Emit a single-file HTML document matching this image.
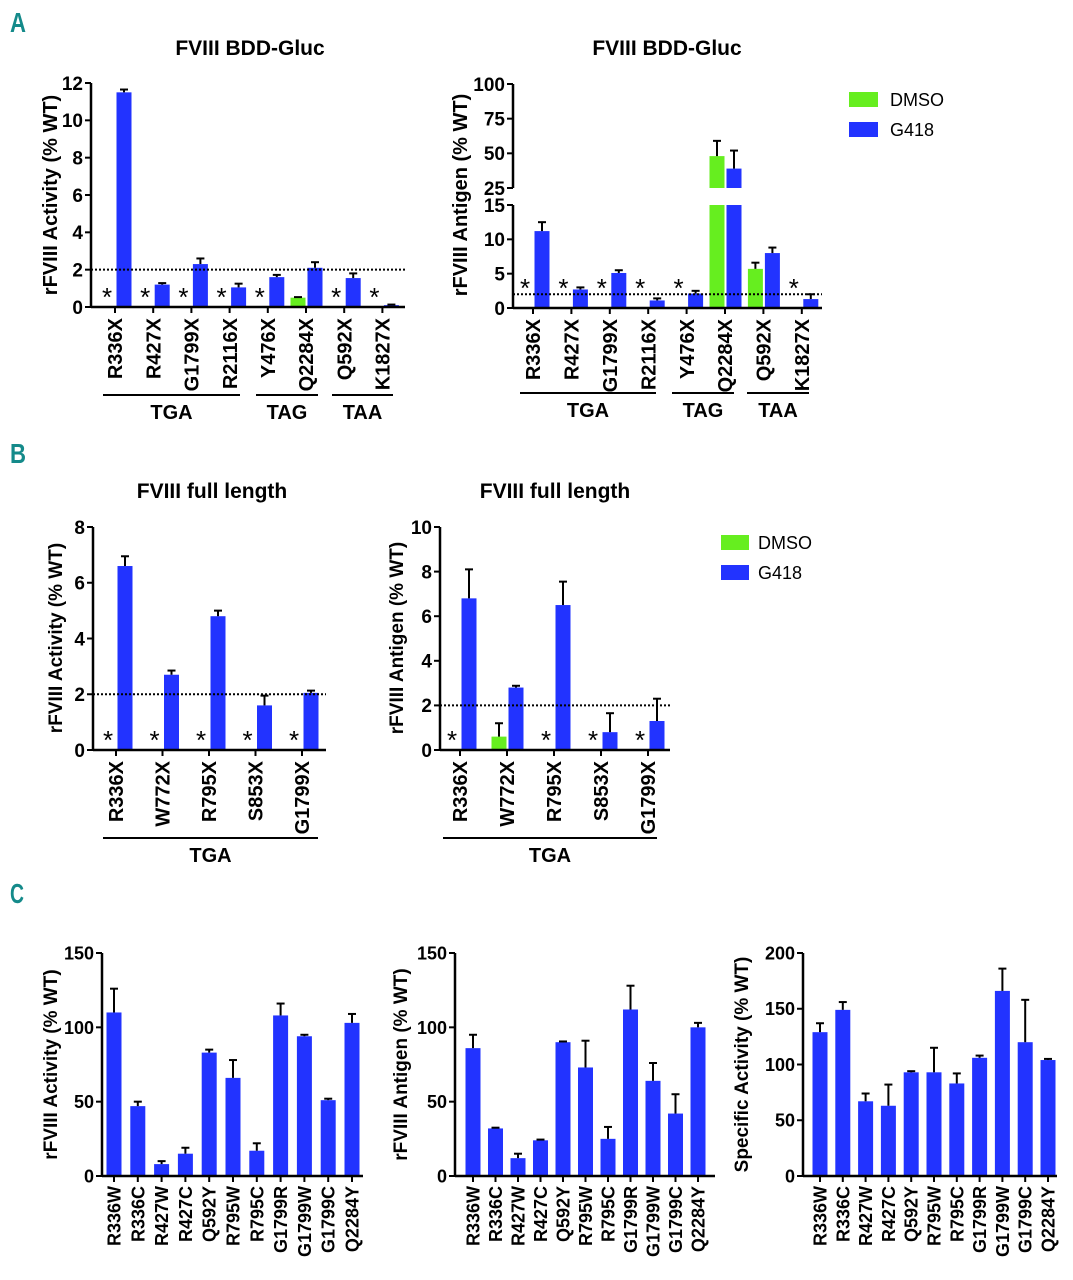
<!DOCTYPE html>
<html><head><meta charset="utf-8"><style>
html,body{margin:0;padding:0;background:#fff;}
svg{display:block;font-family:"Liberation Sans",Arial,sans-serif;}
.b{font-weight:bold;}
</style></head><body>
<svg id="fig" width="1073" height="1280" viewBox="0 0 1073 1280" xmlns="http://www.w3.org/2000/svg">
<text x="10" y="32" font-size="28" fill="#148a8a" class="b" textLength="16" lengthAdjust="spacingAndGlyphs">A</text>
<text x="10" y="463" font-size="28" fill="#148a8a" class="b" textLength="16" lengthAdjust="spacingAndGlyphs">B</text>
<text x="10" y="903" font-size="28" fill="#148a8a" class="b" textLength="14" lengthAdjust="spacingAndGlyphs">C</text>
<g>
<rect x="849" y="92" width="29" height="15" fill="#66ee1f"/>
<text x="890" y="106" font-size="18">DMSO</text>
<rect x="849" y="122" width="29" height="15" fill="#2233ff"/>
<text x="890" y="136" font-size="18">G418</text>
</g>
<g>
<rect x="721" y="535" width="28" height="15" fill="#66ee1f"/>
<text x="758" y="549" font-size="18">DMSO</text>
<rect x="721" y="565" width="28" height="15" fill="#2233ff"/>
<text x="758" y="579" font-size="18">G418</text>
</g>
</svg>
<script>
// ---- data ----
const aCats = ["R336X","R427X","G1799X","R2116X","Y476X","Q2284X","Q592X","K1827X"];
const aActG418 = [11.5,1.2,2.3,1.05,1.6,2.1,1.55,0.1];
const aActG418Err = [0.15,0.08,0.3,0.2,0.12,0.3,0.25,0.03];
const aActDmso = [0,0,0,0,0,0.5,0,0];
const aActDmsoErr = [0,0,0,0,0,0.03,0,0];
const aActTicks = [0,2,4,6,8,10,12];
const aAgG418 = [11.2,2.7,5.1,1.1,2.1,39,8.0,1.3];
const aAgG418Err = [1.3,0.3,0.4,0.3,0.4,13,0.8,0.7];
const aAgDmso = [0,0,0,0,0,48,5.7,0];
const aAgDmsoErr = [0,0,0,0,0,11,0.9,0];
const aAgTicksLow = [0,5,10,15];
const aAgTicksHigh = [25,50,75,100];
const bCats = ["R336X","W772X","R795X","S853X","G1799X"];
const bActG418 = [6.6,2.7,4.8,1.6,2.05];
const bActG418Err = [0.35,0.15,0.2,0.35,0.08];
const bActDmso = [0,0,0,0,0];
const bActDmsoErr = [0,0,0,0,0];
const bActTicks = [0,2,4,6,8];
const bAgG418 = [6.8,2.8,6.5,0.8,1.3];
const bAgG418Err = [1.3,0.08,1.05,0.85,1.0];
const bAgDmso = [0,0.6,0,0,0];
const bAgDmsoErr = [0,0.6,0,0,0];
const bAgTicks = [0,2,4,6,8,10];
const cCats = ["R336W","R336C","R427W","R427C","Q592Y","R795W","R795C","G1799R","G1799W","G1799C","Q2284Y"];
const cAct = [110,47,8,15,83,66,17,108,94,51,103];
const cActErr = [16,3,2,4,2,12,5,8,1,1,6];
const cAg = [86,32,12,24,90,73,25,112,64,42,100];
const cAgErr = [9,0.5,3,0.5,0.5,18,8,16,12,13,3];
const cSpec = [129,149,67,63,93,93,83,106,166,120,104];
const cSpecErr = [8,7,7,19,1,22,9,2,20,38,1];
const cTicks150 = [0,50,100,150];
const cTicks200 = [0,50,100,150,200];

const NS="http://www.w3.org/2000/svg";
const svg=document.getElementById('fig');
const GREEN="#66ee1f", BLUE="#2233ff";
function mk(tag,attrs,parent){const e=document.createElementNS(NS,tag);for(const k in attrs)e.setAttribute(k,attrs[k]);(parent||svg).appendChild(e);return e;}
function txt(s,attrs,parent){const e=mk('text',attrs,parent);e.textContent=s;return e;}

function errbar(g,x,yTop,yErr){
  const l=mk('line',{x1:x,x2:x,y1:yTop,y2:yErr,stroke:'#000','stroke-width':2},g);
  
  
  const c=mk('line',{x1:x-4,x2:x+4,y1:yErr,y2:yErr,stroke:'#000','stroke-width':2},g);
  
  
}

function axisY(g,ax,ticks,yf,fs){
  for(const t of ticks){
    const y=yf(t);
    mk('line',{x1:ax-6,x2:ax,y1:y,y2:y,stroke:'#000','stroke-width':2},g);
    const tl=txt(String(t),{x:ax-8,y:y+fs*0.36,'font-size':fs,'text-anchor':'end','font-weight':'bold'},g);
    
    
  }
}

function ytitle(g,s,x,y,fs){
  const t=txt(s,{x:x,y:y,'font-size':fs,'font-weight':'bold','text-anchor':'middle',transform:`rotate(-90 ${x} ${y})`},g);
  
  
}

function xlabels(g,cats,xf,yTop,fs){
  cats.forEach((c,i)=>{
    const x=xf(i)+fs*0.36;
    const t=txt(c,{x:x,y:yTop,'font-size':fs,'font-weight':'bold','text-anchor':'end',transform:`rotate(-90 ${x} ${yTop})`},g);
    
    
  });
}

function paired(o){
  const g=mk('g',{});
  
  
  const xf=i=>o.x0+i*o.step;
  const bw=o.bw;
  const y0=o.yf(0);
  function drawBar(v,e,x,color,nm){
    if(v<=0)return;
    if(o.brk && v>o.brk[0]){
      const r1=mk('rect',{x:x,y:o.yf(o.brk[0]),width:bw,height:y0-o.yf(o.brk[0]),fill:color},g);
      
      
      const r2=mk('rect',{x:x,y:o.yf(v),width:bw,height:o.yf(o.brk[1])-o.yf(v),fill:color},g);
      
      
    } else {
      const r=mk('rect',{x:x,y:o.yf(v),width:bw,height:y0-o.yf(v),fill:color},g);
      
      
    }
    if(e>0) errbar(g,x+bw/2,o.yf(v),o.yf(v+e));
  }
  o.cats.forEach((c,i)=>{
    const x=xf(i);
    drawBar(o.dmso[i],o.dmsoErr[i],x-bw-0.5,GREEN,'bar-dmso-'+c.toLowerCase());
    drawBar(o.g418[i],o.g418Err[i],x+1.5,BLUE,'bar-g418-'+c.toLowerCase());
    if(o.dmso[i]<=0){
      const s=txt('*',{x:x-8,y:y0+o.starOff,'font-size':26,'text-anchor':'middle'},g);
      
      
    }
  });
  const dl=mk('line',{x1:o.ax,x2:o.axEnd,y1:o.yf(2),y2:o.yf(2),stroke:'#000','stroke-width':2,'stroke-dasharray':'2,2'},g);
  
  
  if(o.brk){
    mk('line',{x1:o.ax,x2:o.ax,y1:y0+1,y2:o.yf(o.brk[0]),stroke:'#000','stroke-width':2.5},g);
    mk('line',{x1:o.ax,x2:o.ax,y1:o.yf(o.brk[1]),y2:o.yf(o.ticksHigh[o.ticksHigh.length-1]),stroke:'#000','stroke-width':2.5},g);
    axisY(g,o.ax,o.ticks,o.yf,o.fs);
    axisY(g,o.ax,o.ticksHigh,o.yf,o.fs);
  } else {
    mk('line',{x1:o.ax,x2:o.ax,y1:y0+1,y2:o.yf(o.ticks[o.ticks.length-1]),stroke:'#000','stroke-width':2.5},g);
    axisY(g,o.ax,o.ticks,o.yf,o.fs);
  }
  mk('line',{x1:o.ax,x2:o.axEnd,y1:y0,y2:y0,stroke:'#000','stroke-width':2.5},g);
  o.cats.forEach((c,i)=>mk('line',{x1:xf(i),x2:xf(i),y1:y0,y2:y0+6,stroke:'#000','stroke-width':2},g));
  xlabels(g,o.cats,xf,y0+11,o.lfs);
  ytitle(g,o.ytitle,o.ytx,o.yty,o.tfs);
  const tt=txt(o.title,{x:o.tx,y:o.ty,'font-size':21,'font-weight':'bold','text-anchor':'middle'},g);
  
  
  o.groups.forEach(gr=>{
    mk('line',{x1:gr[1],x2:gr[2],y1:o.gy,y2:o.gy,stroke:'#000','stroke-width':2},g);
    const gl=txt(gr[0],{x:(gr[1]+gr[2])/2,y:o.gy+24,'font-size':20,'font-weight':'bold','text-anchor':'middle'},g);
    
    
  });
}

function single(o){
  const g=mk('g',{});
  
  
  const xf=i=>o.x0+i*o.step;
  const y0=o.yf(0), bw=15;
  o.cats.forEach((c,i)=>{
    const x=xf(i)-bw/2, v=o.vals[i];
    const r=mk('rect',{x:x,y:o.yf(v),width:bw,height:y0-o.yf(v),fill:BLUE},g);
    
    
    errbar(g,xf(i),o.yf(v),o.yf(v+o.errs[i]));
  });
  mk('line',{x1:o.ax,x2:o.ax,y1:y0+1,y2:o.yf(o.ticks[o.ticks.length-1]),stroke:'#000','stroke-width':2.5},g);
  mk('line',{x1:o.ax,x2:o.axEnd,y1:y0,y2:y0,stroke:'#000','stroke-width':2.5},g);
  axisY(g,o.ax,o.ticks,o.yf,18);
  o.cats.forEach((c,i)=>mk('line',{x1:xf(i),x2:xf(i),y1:y0,y2:y0+6,stroke:'#000','stroke-width':2},g));
  xlabels(g,o.cats,xf,y0+10,18);
  ytitle(g,o.ytitle,o.ytx,(y0+o.yf(o.ticks[o.ticks.length-1]))/2,19);
}

paired({name:'chart-a-activity',cats:aCats,g418:aActG418,g418Err:aActG418Err,dmso:aActDmso,dmsoErr:aActDmsoErr,
  ticks:aActTicks,yf:v=>307-v*(224/12),ax:91,axEnd:405,x0:115,step:38.2,bw:15,fs:19,lfs:20,tfs:20,starOff:-1,
  ytitle:'rFVIII Activity (% WT)',ytx:57,yty:195,title:'FVIII BDD-Gluc',tx:250,ty:55,gy:395,
  groups:[['TGA',103,240],['TAG',256,318],['TAA',332,393]]});
paired({name:'chart-a-antigen',cats:aCats,g418:aAgG418,g418Err:aAgG418Err,dmso:aAgDmso,dmsoErr:aAgDmsoErr,
  ticks:aAgTicksLow,ticksHigh:aAgTicksHigh,brk:[15,25],starOff:-11,
  yf:v=>v<=15?308-v*(103/15):188-(v-25)*(104/75),ax:513,axEnd:822,x0:533,step:38.4,bw:15,fs:19,lfs:20,tfs:20,
  ytitle:'rFVIII Antigen (% WT)',ytx:467,yty:195,title:'FVIII BDD-Gluc',tx:667,ty:55,gy:393,
  groups:[['TGA',520,656],['TAG',672,734],['TAA',747,809]]});
paired({name:'chart-b-activity',cats:bCats,g418:bActG418,g418Err:bActG418Err,dmso:bActDmso,dmsoErr:bActDmsoErr,
  ticks:bActTicks,yf:v=>750-v*(223/8),ax:93,axEnd:326,x0:116,step:46.5,bw:15,fs:19,lfs:20,tfs:19,starOff:-1,
  ytitle:'rFVIII Activity (% WT)',ytx:62,yty:638,title:'FVIII full length',tx:212,ty:498,gy:838,
  groups:[['TGA',103,318]]});
paired({name:'chart-b-antigen',cats:bCats,g418:bAgG418,g418Err:bAgG418Err,dmso:bAgDmso,dmsoErr:bAgDmsoErr,
  ticks:bAgTicks,yf:v=>750-v*(223/10),ax:440,axEnd:670,x0:460,step:47,bw:15,fs:19,lfs:20,tfs:19,starOff:-1,
  ytitle:'rFVIII Antigen (% WT)',ytx:403,yty:638,title:'FVIII full length',tx:555,ty:498,gy:838,
  groups:[['TGA',443,657]]});
single({name:'chart-c-activity',cats:cCats,vals:cAct,errs:cActErr,ticks:cTicks150,yf:v=>1176-v*(223/150),
  ax:102,axEnd:363,x0:114,step:23.8,ytitle:'rFVIII Activity (% WT)',ytx:57});
single({name:'chart-c-antigen',cats:cCats,vals:cAg,errs:cAgErr,ticks:cTicks150,yf:v=>1176-v*(223/150),
  ax:455,axEnd:715,x0:473,step:22.5,ytitle:'rFVIII Antigen (% WT)',ytx:407});
single({name:'chart-c-specific-activity',cats:cCats,vals:cSpec,errs:cSpecErr,ticks:cTicks200,yf:v=>1176-v*(223/200),
  ax:803,axEnd:1057,x0:820,step:22.8,ytitle:'Specific Activity (% WT)',ytx:748});
</script>
</body></html>
